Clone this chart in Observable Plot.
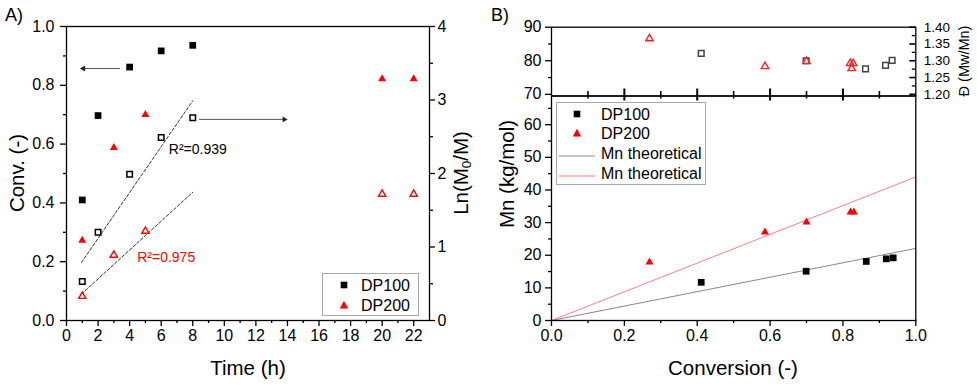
<!DOCTYPE html>
<html><head><meta charset="utf-8">
<script src="https://cdn.jsdelivr.net/npm/d3@7"></script>
<script src="https://cdn.jsdelivr.net/npm/@observablehq/plot@0.6"></script>
<style>
body{margin:0;background:#fff;}
#root{position:relative;width:977px;height:386px;overflow:hidden;font-family:"Liberation Sans",Arial,Helvetica,sans-serif;color:#000;}
#root svg.plt{position:absolute;left:0;top:0;}
.lbl{position:absolute;white-space:nowrap;line-height:1;}
.c{transform:translate(-50%,-50%);}
.r{transform:translate(-50%,-50%) rotate(-90deg);}
.leg{position:absolute;border:1px solid #a8a8a8;background:#fff;box-sizing:border-box;}
.row{position:absolute;left:0;display:flex;align-items:center;font-size:16px;line-height:1;}
</style></head><body><div id="root"></div>
<script>
// ---------- Panel A data ----------
const timeDP100 = [1, 2, 4, 6, 8];
const convDP100 = [0.41, 0.697, 0.862, 0.917, 0.936];
const lnDP100   = [0.53, 1.20, 1.99, 2.49, 2.76];
const timeDP200 = [1, 3, 5, 20, 22];
const convDP200 = [0.272, 0.588, 0.70, 0.822, 0.822];
const lnDP200   = [0.33, 0.89, 1.215, 1.72, 1.72];
const fitTime   = [0.95, 8];
const fitDP100  = [0.79, 2.99];
const fitDP200  = [0.36, 1.745];
const r2Labels  = ["R\u00b2=0.939", "R\u00b2=0.975"];
const r2Time    = [6.48, 4.48];
const r2Ln      = [2.33, 0.86];
const arrowFrom = [3.4, 8.4];
const arrowTo   = [1.07, 13.8];
const arrowConv = [0.857, 0.684];
const ticksTime = [0, 2, 4, 6, 8, 10, 12, 14, 16, 18, 20, 22];
const minorTime = [1, 3, 5, 7, 9, 11, 13, 15, 17, 19, 21];
const ticksConvA = [0, 0.2, 0.4, 0.6, 0.8, 1.0];
const minorConvA = [0.1, 0.3, 0.5, 0.7, 0.9];
const ticksLn = [0, 1, 2, 3, 4];
const minorLn = [0.5, 1.5, 2.5, 3.5];

// ---------- Panel B data ----------
const convB100 = [0.411, 0.699, 0.864, 0.919, 0.938];
const mnB100   = [11.7, 15.1, 18.1, 18.9, 19.2];
const dispConvB100 = [0.411, 0.699, 0.862, 0.917, 0.935];
const dispB100 = [1.322, 1.300, 1.276, 1.286, 1.301];
const convB200 = [0.269, 0.586, 0.70, 0.821, 0.830];
const mnB200   = [17.9, 27.1, 30.1, 33.2, 33.2];
const dispConvB200 = [0.269, 0.586, 0.70, 0.820, 0.828, 0.824];
const dispB200 = [1.366, 1.283, 1.298, 1.292, 1.292, 1.277];
const theoConv = [0, 1];
const theoDP100 = [0, 22.1];
const theoDP200 = [0, 44.0];
const ticksConvB = [0, 0.2, 0.4, 0.6, 0.8, 1.0];
const minorConvB = [0.1, 0.3, 0.5, 0.7, 0.9];
const innerConvB = [0.2, 0.4, 0.6, 0.8];
const ticksMn = [0, 10, 20, 30, 40, 50, 60];
const minorMn = [5, 15, 25, 35, 45, 55, 65];
const ticksMnTop = [70, 80, 90];
const minorMnTop = [75, 85];
const ticksDisp = [1.20, 1.25, 1.30, 1.35, 1.40];
const minorDisp = [1.225, 1.275, 1.325, 1.375];

const W = 977, H = 386;
const FONT = '"Liberation Sans", Arial, Helvetica, sans-serif';
const root = document.getElementById("root");

function mk(opts) {
  const svg = Plot.plot({
    width: W, height: H,
    style: {background: "transparent", fontFamily: FONT, fontSize: "16px", color: "#000", overflow: "visible"},
    ...opts
  });
  svg.classList.add("plt");
  root.appendChild(svg);
  return svg;
}
const blank = () => "";
function axis(dim, anchor, ticks, size, fmt, pad = 4, fs = 16) {
  const f = dim === "x" ? Plot.axisX : Plot.axisY;
  return f({anchor, ticks, tickSize: size, tickPadding: pad, fontSize: fs,
            tickFormat: fmt || blank, strokeWidth: 1.3, label: null, stroke: "#000", fill: "#000"});
}

// ---------- Panel A geometry ----------
const mA = {marginLeft: 66, marginRight: W - 429, marginTop: 26, marginBottom: H - 320};
const rowsA100 = timeDP100.map((t, i) => ({t, conv: convDP100[i], ln: lnDP100[i]}));
const rowsA200 = timeDP200.map((t, i) => ({t, conv: convDP200[i], ln: lnDP200[i]}));
const fit100 = fitTime.map((t, i) => ({t, ln: fitDP100[i]}));
const fit200 = fitTime.map((t, i) => ({t, ln: fitDP200[i]}));
const arrows = arrowFrom.map((a, i) => ({x1: a, x2: arrowTo[i], y: arrowConv[i], rot: arrowTo[i] < a ? -90 : 90}));
const r2 = r2Labels.map((s, i) => ({s, t: r2Time[i], ln: r2Ln[i], c: i === 0 ? "#000" : "#ff0000"}));

// A: left axis (conversion)
mk({
  ...mA,
  x: {domain: [0, 23], label: null},
  y: {domain: [0, 1], label: null},
  marks: [
    axis("x", "bottom", minorTime, 3),
    axis("x", "bottom", ticksTime, 6, d => String(d), 3),
    axis("y", "left", minorConvA, 3),
    axis("y", "left", ticksConvA, 6, d3.format(".1f"), 6),
    Plot.link(arrows, {x1: "x1", x2: "x2", y1: "y", y2: "y", stroke: "#555", strokeWidth: 1}),
    Plot.dot(arrows, {x: "x2", y: "y", symbol: "triangle", r: 2.2, fill: "#222", rotate: "rot"}),
    Plot.dot(rowsA100, {x: "t", y: "conv", symbol: "square", r: 3.8, fill: "#000"}),
    Plot.dot(rowsA200, {x: "t", y: "conv", symbol: "triangle", r: 3.0, fill: "#ff0000"}),
    Plot.frame({stroke: "#000", strokeWidth: 1.3})
  ]
});
// A: right axis (ln(M0/M))
mk({
  ...mA,
  x: {domain: [0, 23], axis: null, label: null},
  y: {domain: [0, 4], label: null},
  marks: [
    axis("y", "right", minorLn, 3),
    axis("y", "right", ticksLn, 5, d => String(d), 3),
    Plot.line(fit100, {x: "t", y: "ln", stroke: "#333", strokeWidth: 1, strokeDasharray: "3,2"}),
    Plot.line(fit200, {x: "t", y: "ln", stroke: "#333", strokeWidth: 1, strokeDasharray: "3,2"}),
    Plot.dot(rowsA100, {x: "t", y: "ln", symbol: "square", r: 3.1, stroke: "#000", strokeWidth: 1.5, fill: "#fff"}),
    Plot.dot(rowsA200, {x: "t", y: "ln", symbol: "triangle", r: 2.7, stroke: "#ff0000", strokeWidth: 1.4, fill: "#fff"}),
    Plot.text(r2, {x: "t", y: "ln", text: "s", fill: "c", textAnchor: "start", fontSize: 14})
  ]
});

// ---------- Panel B geometry ----------
const xR = 915.3, yB = 95.5;
const mBb = {marginLeft: 551, marginRight: W - xR, marginTop: yB, marginBottom: H - 320};
const mBt = {marginLeft: 551, marginRight: W - xR, marginTop: 26.7, marginBottom: H - yB};
const rowsB100 = convB100.map((c, i) => ({c, mn: mnB100[i]}));
const rowsB200 = convB200.map((c, i) => ({c, mn: mnB200[i]}));
const dRows100 = dispConvB100.map((c, i) => ({c, d: dispB100[i]}));
const dRows200 = dispConvB200.map((c, i) => ({c, d: dispB200[i]}));
const theo100 = theoConv.map((c, i) => ({c, mn: theoDP100[i]}));
const theo200 = theoConv.map((c, i) => ({c, mn: theoDP200[i]}));

// B bottom: Mn vs conversion
mk({
  ...mBb,
  x: {domain: [0, 1], label: null},
  y: {domain: [0, 68.8], label: null},
  marks: [
    axis("x", "bottom", minorConvB, 3),
    axis("x", "bottom", ticksConvB, 6, d3.format(".1f"), 3),
    axis("y", "left", minorMn, 3),
    axis("y", "left", ticksMn, 6, d => String(d), 4),
    Plot.line(theo100, {x: "c", y: "mn", stroke: "#888", strokeWidth: 1}),
    Plot.line(theo200, {x: "c", y: "mn", stroke: "#ff8080", strokeWidth: 1}),
    Plot.dot(rowsB100, {x: "c", y: "mn", symbol: "square", r: 3.8, fill: "#000"}),
    Plot.dot(rowsB200, {x: "c", y: "mn", symbol: "triangle", r: 3.0, fill: "#ff0000"}),
    Plot.frame({stroke: "#000", strokeWidth: 1.3})
  ]
});
// B top: dispersity (right axis labels)
mk({
  ...mBt,
  x: {domain: [0, 1], axis: null, label: null},
  y: {domain: [1.195, 1.40], label: null},
  marks: [
    axis("y", "right", ticksDisp, 0, d3.format(".2f"), 8, 13.5),
    Plot.dot(dRows100, {x: "c", y: "d", symbol: "square", r: 3.2, stroke: "#444", strokeWidth: 1.5, fill: "none"}),
    Plot.dot(dRows200, {x: "c", y: "d", symbol: "triangle", r: 2.8, stroke: "#ff2020", strokeWidth: 1.4, fill: "none"}),
    Plot.frame({stroke: "#000", strokeWidth: 1.3})
  ]
});
// B top: left Mn axis
mk({
  ...mBt,
  x: {domain: [0, 1], axis: null, label: null},
  y: {domain: [69.5, 90], label: null},
  marks: [
    axis("y", "left", minorMnTop, 3),
    axis("y", "left", ticksMnTop, 6, d => String(d), 4)
  ]
});
// Ticks crossing the boundary between the two B panels (thin strips sharing the x scale)
function xStrip(ticks, top, bottom, sw) {
  mk({marginLeft: 551, marginRight: W - xR, marginTop: top, marginBottom: H - bottom,
      x: {domain: [0, 1], axis: null, label: null},
      marks: [Plot.tickX(ticks, {x: d => d, stroke: "#000", strokeWidth: sw})]});
}
xStrip(innerConvB, yB - 7, yB + 5, 2);
xStrip(minorConvB, yB - 4.5, yB + 3, 1.6);
// Inward ticks on the right axis of the upper B panel (thin strips sharing the y scale)
function yStrip(ticks, left, sw) {
  mk({marginLeft: left, marginRight: W - xR, marginTop: 26.7, marginBottom: H - yB,
      y: {domain: [1.195, 1.40], axis: null, label: null},
      marks: [Plot.tickY(ticks, {y: d => d, stroke: "#000", strokeWidth: sw})]});
}
yStrip(ticksDisp, xR - 6, 1.6);
yStrip(minorDisp, xR - 3.5, 1.3);

// ---------- Text labels ----------
function label(html, x, y, cls, fs) {
  const d = document.createElement("div");
  d.className = "lbl " + cls;
  d.style.left = x + "px"; d.style.top = y + "px"; d.style.fontSize = fs + "px";
  d.innerHTML = html;
  root.appendChild(d);
}
label("A)", 14, 15, "c", 18);
label("B)", 500, 15, "c", 18);
label("Conv. (-)", 17, 173, "r", 20.5);
label("Ln(M<sub style='font-size:0.65em;vertical-align:-0.25em'>0</sub>/M)", 462, 173, "r", 20.5);
label("Time (h)", 248, 368, "c", 20.5);
label("Conversion (-)", 733, 368, "c", 20.5);
label("Mn (kg/mol)", 507, 174, "r", 20.5);
label("\u0110 (Mw/Mn)", 964, 61, "r", 14.5);

// ---------- Legends ----------
const sq = '<svg width="12" height="12"><rect x="2.7" y="2.7" width="6.6" height="6.6" fill="#000"/></svg>';
const tri = '<svg width="12" height="12"><path d="M6,1.8L10.2,9.4L1.8,9.4Z" fill="#ff0000"/></svg>';
const ln = c => `<svg width="36" height="6"><line x1="0" y1="3" x2="36" y2="3" stroke="${c}" stroke-width="1.2"/></svg>`;
function legend(box, rows) {
  const L = document.createElement("div");
  L.className = "leg";
  Object.assign(L.style, {left: box[0] + "px", top: box[1] + "px", width: box[2] + "px", height: box[3] + "px"});
  rows.forEach(r => {
    const row = document.createElement("div");
    row.className = "row";
    row.style.top = (r.y - box[1] - 9) + "px";
    row.style.height = "18px";
    row.innerHTML = `<span style="display:inline-block;width:${r.sw}px;text-align:center;margin-left:${r.sx}px">${r.sym}</span><span style="margin-left:${r.gap}px">${r.text}</span>`;
    L.appendChild(row);
  });
  root.appendChild(L);
}
legend([322, 273, 97, 43], [
  {y: 285, sym: sq, sw: 14, sx: 14, gap: 10, text: "DP100"},
  {y: 304.5, sym: tri, sw: 14, sx: 14, gap: 10, text: "DP200"}
]);
legend([556, 102, 150, 83], [
  {y: 113.5, sym: sq, sw: 36, sx: 2, gap: 6, text: "DP100"},
  {y: 133, sym: tri, sw: 36, sx: 2, gap: 6, text: "DP200"},
  {y: 152.5, sym: ln("#888"), sw: 36, sx: 2, gap: 6, text: "Mn theoretical"},
  {y: 172.5, sym: ln("#ff8080"), sw: 36, sx: 2, gap: 6, text: "Mn theoretical"}
]);
</script>
</body></html>
